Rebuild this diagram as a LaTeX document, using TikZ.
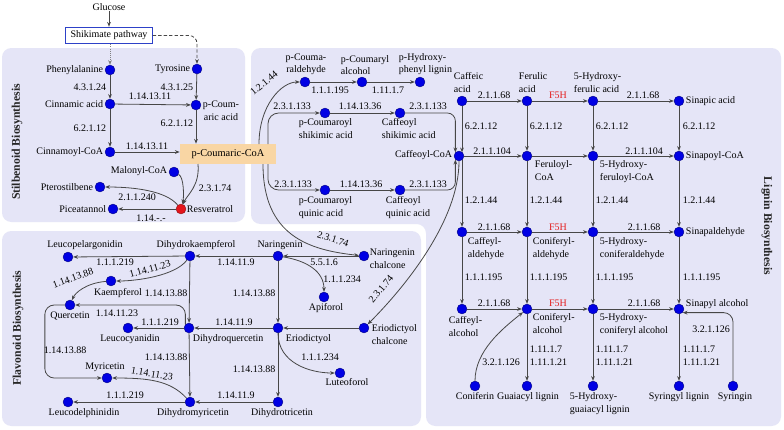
\documentclass[tikz,border=0pt]{standalone}
\usepackage{fontspec}
\setmainfont{Liberation Serif}
\usetikzlibrary{arrows.meta}
\definecolor{panelc}{RGB}{229,229,247}
\definecolor{dotblue}{RGB}{0,0,228}
\definecolor{dotred}{RGB}{228,22,28}
\definecolor{boxor}{RGB}{249,214,164}
\definecolor{fivered}{RGB}{228,30,30}
\definecolor{shikb}{RGB}{45,65,200}
\newcommand\dfs{\fontsize{7.5}{9.6}\selectfont}
\newcommand\bfs{\fontsize{7.8}{9}\selectfont}
\newcommand\sfs{\fontsize{8.8}{10}\selectfont}
\begin{document}
\begin{tikzpicture}[x=0.75pt,y=-0.75pt,
 lab/.style={font=\dfs, inner sep=0.5pt, align=center},
 labl/.style={font=\dfs, inner sep=0.5pt, align=left},
 el/.style={font=\dfs, inner sep=0.5pt},
 elr/.style={el, text=fivered},
 side/.style={font=\sfs\bfseries, text=black!85},
 arr/.style={draw=black!72, line width=0.6pt, -{Stealth[length=3.6pt,width=2.8pt]}},
 dot/.style={circle, fill=dotblue, draw=dotblue!55!black, line width=0.3pt, inner sep=0pt, minimum size=7.4pt},
 rdot/.style={dot, fill=dotred, draw=dotred!60!black},
 pcbox/.style={fill=boxor, minimum width=72pt, minimum height=15pt, inner sep=0pt, font=\bfs},
 shikbox/.style={draw=shikb, line width=0.6pt, fill=white, minimum width=65pt, minimum height=12.5pt, inner sep=0pt, font=\dfs},
]
\useasboundingbox (0,0) rectangle (784,429);
\fill[white] (0,0) rectangle (784,429);
% panels
\fill[panelc, rounded corners=7] (2,48) rectangle (245,222);
\fill[panelc, rounded corners=7] (2,231) rectangle (421,426);
\fill[panelc, rounded corners=7] (251,48) -- (781,48) -- (781,426) -- (426,426) -- (426,224) -- (251,224) -- cycle;
\node[side, rotate=90] (s1) at (17,142) {Stilbenoid Biosynthesis};
\node[side, rotate=90] (s2) at (18,328) {Flavonoid Biosynthesis};
\node[side, rotate=-90] (s3) at (767,226) {Lignin Biosynthesis};

% top
\node[lab] (glu) at (109,7) {Glucose};
\node[shikbox] (shik) at (109,35.5) {Shikimate pathway};

% stilbenoid
\node[dot] (phe) at (110,70) {};
\node[lab, anchor=east] (phet) at (104,70) {Phenylalanine};
\node[dot] (tyr) at (197,69) {};
\node[lab, anchor=east] (tyrt) at (191,69) {Tyrosine};
\node[dot] (cin) at (110,104) {};
\node[lab, anchor=east] (cint) at (104,104) {Cinnamic acid};
\node[dot] (pca) at (196,105) {};
\node[lab] (pcat) at (221,111) {p-Coum-\\aric acid};
\node[dot] (ccoa) at (110,152) {};
\node[lab, anchor=east] (ccoat) at (104,152) {Cinnamoyl-CoA};
\node[pcbox] (pcc) at (228,154) {p-Coumaric-CoA};
\node[dot] (mal) at (174,172) {};
\node[lab, anchor=east] (malt) at (168,171) {Malonyl-CoA};
\node[rdot] (res) at (181,209) {};
\node[lab, anchor=west] (rest) at (186,209) {Resveratrol};
\node[dot] (pte) at (100,187) {};
\node[lab, anchor=east] (ptet) at (94,187) {Pterostilbene};
\node[dot] (pic) at (113,209) {};
\node[lab, anchor=east] (pict) at (107,209) {Piceatannol};
\coordinate (pcS) at (198,164);
\coordinate (pcA) at (259,144);
\coordinate (pcB) at (268,144);
\coordinate (pcC) at (268,164);
\coordinate (pcD) at (263,164);

\draw[arr] (glu) -- (shik);
\draw[arr, draw=gray, densely dotted] (shik.south -| phe) -- (phe);
\draw[arr, dashed, dash pattern=on 2.5pt off 1.6pt, rounded corners=6] (shik.east) -| (tyr);
\draw[arr] (phe) -- (cin);
\node[el, anchor=east] (e1) at (107,87) {4.3.1.24};
\draw[arr] (tyr) -- (pca);
\node[el, anchor=east] (e2) at (194,87) {4.3.1.25};
\draw[arr] (cin) -- (pca);
\node[el] (e3) at (150,96) {1.14.13.11};
\draw[arr] (cin) -- (ccoa);
\node[el, anchor=east] (e4) at (107,128) {6.2.1.12};
\draw[arr] (pca) -- (pca |- pcc.north);
\node[el, anchor=east] (e5) at (194,123) {6.2.1.12};
\draw[arr] (ccoa) -- (ccoa -| pcc.west);
\node[el] (e6) at (147,146) {1.14.13.11};
\draw[arr] (pcS) .. controls +(2,22) and +(6,-14) .. (res);
\draw[arr] (mal) .. controls +(10,5) and +(3,-12) .. (res);
\node[el] (e7) at (215,188) {2.3.1.74};
\draw[arr] (res) .. controls +(-15,-18) and +(35,0) .. (pte);
\node[el] (e8) at (137,197) {2.1.1.240};
\draw[arr] (res) -- (pic);
\node[el] (e9) at (151,218) {1.14.-.-};

% flavonoid
\node[dot] (lpel) at (68,257) {};
\node[lab, anchor=south] (lpelt) at (85,251) {Leucopelargonidin};
\node[dot] (dhk) at (190,256) {};
\node[lab, anchor=south] (dhkt) at (196,251) {Dihydrokaempferol};
\node[dot] (nar) at (278,256) {};
\node[lab, anchor=south] (nart) at (280,251) {Naringenin};
\node[dot] (narc) at (364,256) {};
\node[labl, anchor=west] (narct) at (369,259) {Naringenin\\chalcone};
\node[dot] (kae) at (111,281) {};
\node[lab, anchor=north] (kaet) at (118,288) {Kaempferol};
\node[dot] (que) at (70,305) {};
\node[lab, anchor=north] (quet) at (70,311) {Quercetin};
\node[dot] (lcya) at (128,328) {};
\node[lab, anchor=north] (lcyat) at (130,334) {Leucocyanidin};
\node[dot] (dhq) at (189,328) {};
\node[lab, anchor=north west] (dhqt) at (192,334) {Dihydroquercetin};
\node[dot] (erio) at (278,328) {};
\node[lab, anchor=north west] (eriot) at (285,334) {Eriodictyol};
\node[dot] (erioc) at (364,328) {};
\node[labl, anchor=north west] (erioct) at (371,324) {Eriodictyol\\chalcone};
\node[dot] (api) at (324,297) {};
\node[lab, anchor=north] (apit) at (326,303) {Apiforol};
\node[dot] (lut) at (340,373) {};
\node[lab, anchor=north] (lutt) at (347,378) {Luteoforol};
\node[dot] (dht) at (278,402) {};
\node[lab, anchor=north] (dhtt) at (282,408) {Dihydrotricetin};
\node[dot] (dhm) at (190,402) {};
\node[lab, anchor=north] (dhmt) at (193,408) {Dihydromyricetin};
\node[dot] (myr) at (107,378) {};
\node[lab, anchor=south] (myrt) at (105,373) {Myricetin};
\node[dot] (ldel) at (68,402) {};
\node[lab, anchor=north] (ldelt) at (84,408) {Leucodelphinidin};

\draw[arr] (dhk) -- (lpel);
\node[el] (f1) at (115,262) {1.1.1.219};
\draw[arr] (nar) -- (dhk);
\node[el] (f2) at (236,262) {1.14.11.9};
\draw[arr] (narc) -- (nar);
\node[el] (f3) at (324,262) {5.5.1.6};
\draw[arr] (pcD) .. controls +(0,72) and +(-55,-6) .. (narc);
\node[el, rotate=-18] (f4) at (333,239) {2.3.1.74};
\draw[arr] (nar) .. controls +(30,5) and +(0,-25) .. (api);
\node[el] (f5) at (342,279) {1.1.1.234};
\draw[arr] (dhk) .. controls +(-15,20) and +(25,0) .. (kae);
\node[el, rotate=15] (f6) at (150,269) {1.14.11.23};
\draw[arr] (kae) .. controls +(-25,2) and +(5,-12) .. (que);
\node[el, rotate=20] (f7) at (73,278) {1.14.13.88};
\draw[arr] (dhk) -- (dhq);
\node[el] (f8) at (166,293) {1.14.13.88};
\draw[arr] (nar) -- (erio);
\node[el] (f9) at (254,293) {1.14.13.88};
\draw[arr, rounded corners=7] (dhq.north west) |- (que);
\node[el] (f10) at (117,313) {1.14.11.23};
\draw[arr] (dhq) -- (lcya);
\node[el] (f11) at (160,322) {1.1.1.219};
\draw[arr] (erio) -- (dhq);
\node[el] (f12) at (234,322) {1.14.11.9};
\draw[arr] (erioc) -- (erio);
\draw[arr, rounded corners=7] (que.west) -- ++(-20,0) |- (myr);
\node[el] (f13) at (65,350) {1.14.13.88};
\draw[arr] (dhq) -- (dhm);
\node[el] (f14) at (166,357) {1.14.13.88};
\draw[arr] (erio) .. controls +(0,35) and +(-30,0) .. (lut);
\node[el] (f15) at (320,357) {1.1.1.234};
\draw[arr] (erio) -- (dht);
\node[el] (f16) at (254,369) {1.14.13.88};
\draw[arr] (dhm) .. controls +(-20,-22) and +(40,0) .. (myr);
\node[el, rotate=-10] (f17) at (152,374) {1.14.11.23};
\draw[arr] (dhm) -- (ldel);
\node[el] (f18) at (125,395) {1.1.1.219};
\draw[arr] (dht) -- (dhm);
\node[el] (f19) at (236,395) {1.14.11.9};

% lignin top part
\node[dot] (pcald) at (305,82) {};
\node[lab, anchor=south] (pcaldt) at (306,76) {p-Couma-\\raldehyde};
\node[dot] (pcalc) at (362,82) {};
\node[labl, anchor=south west] (pcalct) at (340,76) {p-Coumaryl\\alcohol};
\node[dot] (phl) at (420,82) {};
\node[labl, anchor=south west] (phlt) at (398,76) {p-Hydroxy-\\phenyl lignin};
\node[dot] (pcsh) at (325,113) {};
\node[labl, anchor=north west] (pcsht) at (298,118) {p-Coumaroyl\\shikimic acid};
\node[dot] (cfsh) at (400,113) {};
\node[labl, anchor=north west] (cfsht) at (381,118) {Caffeoyl\\shikimic acid};
\node[dot] (pcqu) at (325,190) {};
\node[labl, anchor=north west] (pcqut) at (298,196) {p-Coumaroyl\\quinic acid};
\node[dot] (cfqu) at (400,190) {};
\node[labl, anchor=north west] (cfqut) at (385,196) {Caffeoyl\\quinic acid};

\draw[arr] (pcA) .. controls +(0,-38) and +(-24,0) .. (pcald);
\node[el, rotate=40] (g1) at (264,83) {1.2.1.44};
\draw[arr] (pcald) -- (pcalc);
\node[el] (g2) at (330,90) {1.1.1.195};
\draw[arr] (pcalc) -- (phl);
\node[el] (g3) at (388,90) {1.11.1.7};
\draw[arr, rounded corners=8] (pcB) |- (pcsh);
\node[el] (g4) at (292,106) {2.3.1.133};
\draw[arr] (pcsh) -- (cfsh);
\node[el] (g5) at (360,106) {1.14.13.36};
\draw[arr, rounded corners=8] (pcC) |- (pcqu);
\node[el] (g6) at (293,184) {2.3.1.133};
\draw[arr] (pcqu) -- (cfqu);
\node[el] (g7) at (361,184) {1.14.13.36};

% lignin grid
\node[dot] (caf) at (462,101) {};
\node[labl, anchor=north west] (caft) at (453,72) {Caffeic\\acid};
\node[dot] (fer) at (527,101) {};
\node[labl, anchor=north west] (fert) at (518,72) {Ferulic\\acid};
\node[dot] (hfer) at (593,101) {};
\node[labl, anchor=north west] (hfert) at (573,72) {5-Hydroxy-\\ferulic acid};
\node[dot] (sin) at (679,101) {};
\node[lab, anchor=west] (sint) at (685,101) {Sinapic acid};

\node[dot] (caffcoa) at (459,156) {};
\node[lab, anchor=east] (caffcoat) at (453,155) {Caffeoyl-CoA};
\node[dot] (fercoa) at (527,156) {};
\node[labl, anchor=north west] (fercoat) at (534,160) {Feruloyl-\\CoA};
\node[dot] (hfercoa) at (593,156) {};
\node[labl, anchor=north west] (hfercoat) at (599,160) {5-Hydroxy-\\feruloyl-CoA};
\node[dot] (sincoa) at (679,156) {};
\node[lab, anchor=west] (sincoat) at (685,156) {Sinapoyl-CoA};

\node[dot] (cald) at (462,232) {};
\node[labl, anchor=north west] (caldt) at (467,237) {Caffeyl-\\aldehyde};
\node[dot] (conald) at (527,232) {};
\node[labl, anchor=north west] (conaldt) at (532,237) {Coniferyl-\\aldehyde};
\node[dot] (hconald) at (593,232) {};
\node[labl, anchor=north west] (hconaldt) at (599,237) {5-Hydroxy-\\coniferaldehyde};
\node[dot] (sinald) at (679,232) {};
\node[lab, anchor=west] (sinaldt) at (685,232) {Sinapaldehyde};

\node[dot] (calc) at (462,309) {};
\node[labl, anchor=north west] (calct) at (448,316) {Caffeyl-\\alcohol};
\node[dot] (conalc) at (527,309) {};
\node[labl, anchor=north west] (conalct) at (532,313) {Coniferyl-\\alcohol};
\node[dot] (hconalc) at (593,309) {};
\node[labl, anchor=north west] (hconalct) at (599,313) {5-Hydroxy-\\coniferyl alcohol};
\node[dot] (sinalc) at (679,309) {};
\node[lab, anchor=west] (sinalct) at (685,304) {Sinapyl alcohol};

\node[dot] (conif) at (475,386) {};
\node[lab, anchor=north] (conift) at (475,392) {Coniferin};
\node[dot] (guai) at (527,386) {};
\node[lab, anchor=north] (guait) at (528,392) {Guaiacyl lignin};
\node[dot] (hguai) at (593,386) {};
\node[labl, anchor=north west] (hguait) at (569,392) {5-Hydroxy-\\guaiacyl lignin};
\node[dot] (syr) at (679,386) {};
\node[lab, anchor=north] (syrt) at (679,392) {Syringyl lignin};
\node[dot] (syrin) at (733,386) {};
\node[lab, anchor=north] (syrint) at (735,392) {Syringin};

\draw[arr, rounded corners=6] (cfsh) -| (caffcoa.north west);
\node[el] (g8) at (428,106) {2.3.1.133};
\draw[arr, rounded corners=6] (cfqu) -| (caffcoa.south west);
\node[el] (g9) at (428,184) {2.3.1.133};
\draw[arr] (caffcoa.south) .. controls +(0,60) and +(40,-40) .. (erioc);
\node[el, rotate=50] (g10) at (381,289) {2.3.1.74};

% row 1
\draw[arr] (caf) -- (fer);
\node[el] (h1) at (494,95) {2.1.1.68};
\draw[arr] (fer) -- (hfer);
\node[elr] (h2) at (558,95) {F5H};
\draw[arr] (hfer) -- (sin);
\node[el] (h3) at (643,95) {2.1.1.68};
% verticals 1
\draw[arr] (caf) -- (caf |- caffcoa.north east);
\draw[arr] (fer) -- (fercoa);
\draw[arr] (hfer) -- (hfercoa);
\draw[arr] (sin) -- (sincoa);
\node[el, anchor=west] (v1) at (464,126) {6.2.1.12};
\node[el, anchor=west] (v2) at (529,126) {6.2.1.12};
\node[el, anchor=west] (v3) at (595,126) {6.2.1.12};
\node[el, anchor=west] (v4) at (682,126) {6.2.1.12};
% row 2
\draw[arr] (caffcoa) -- (fercoa);
\node[el] (h4) at (492,151) {2.1.1.104};
\draw[arr] (fercoa) -- (hfercoa);
\draw[arr] (hfercoa) -- (sincoa);
\node[el] (h5) at (644,151) {2.1.1.104};
% verticals 2
\draw[arr] (cald |- caffcoa.south east) -- (cald);
\draw[arr] (fercoa) -- (conald);
\draw[arr] (hfercoa) -- (hconald);
\draw[arr] (sincoa) -- (sinald);
\node[el, anchor=west] (v5) at (464,200) {1.2.1.44};
\node[el, anchor=west] (v6) at (529,200) {1.2.1.44};
\node[el, anchor=west] (v7) at (595,200) {1.2.1.44};
\node[el, anchor=west] (v8) at (682,200) {1.2.1.44};
% row 3
\draw[arr] (cald) -- (conald);
\node[el] (h6) at (494,227) {2.1.1.68};
\draw[arr] (conald) -- (hconald);
\node[elr] (h7) at (558,227) {F5H};
\draw[arr] (hconald) -- (sinald);
\node[el] (h8) at (644,227) {2.1.1.68};
% verticals 3
\draw[arr] (cald) -- (calc);
\draw[arr] (conald) -- (conalc);
\draw[arr] (hconald) -- (hconalc);
\draw[arr] (sinald) -- (sinalc);
\node[el, anchor=west] (v9) at (464,277) {1.1.1.195};
\node[el, anchor=west] (v10) at (529,277) {1.1.1.195};
\node[el, anchor=west] (v11) at (595,277) {1.1.1.195};
\node[el, anchor=west] (v12) at (682,277) {1.1.1.195};
% row 4
\draw[arr] (calc) -- (conalc);
\node[el] (h9) at (494,303) {2.1.1.68};
\draw[arr] (conalc) -- (hconalc);
\node[elr] (h10) at (558,303) {F5H};
\draw[arr] (hconalc) -- (sinalc);
\node[el] (h11) at (644,303) {2.1.1.68};
% verticals 4
\draw[arr] (conalc) -- (guai);
\draw[arr] (hconalc) -- (hguai);
\draw[arr] (sinalc) -- (syr);
\node[labl, anchor=west] (v13) at (529,356) {1.11.1.7\\1.11.1.21};
\node[labl, anchor=west] (v14) at (595,356) {1.11.1.7\\1.11.1.21};
\node[labl, anchor=west] (v15) at (682,356) {1.11.1.7\\1.11.1.21};
% glucosides
\draw[arr] (conif) .. controls +(0,-35) and +(-25,20) .. (conalc);
\node[el] (h12) at (501,362) {3.2.1.126};
\draw[arr, rounded corners=7] (syrin) |- (sinalc.south east);
\node[el] (h13) at (711,329) {3.2.1.126};
\end{tikzpicture}
\end{document}
